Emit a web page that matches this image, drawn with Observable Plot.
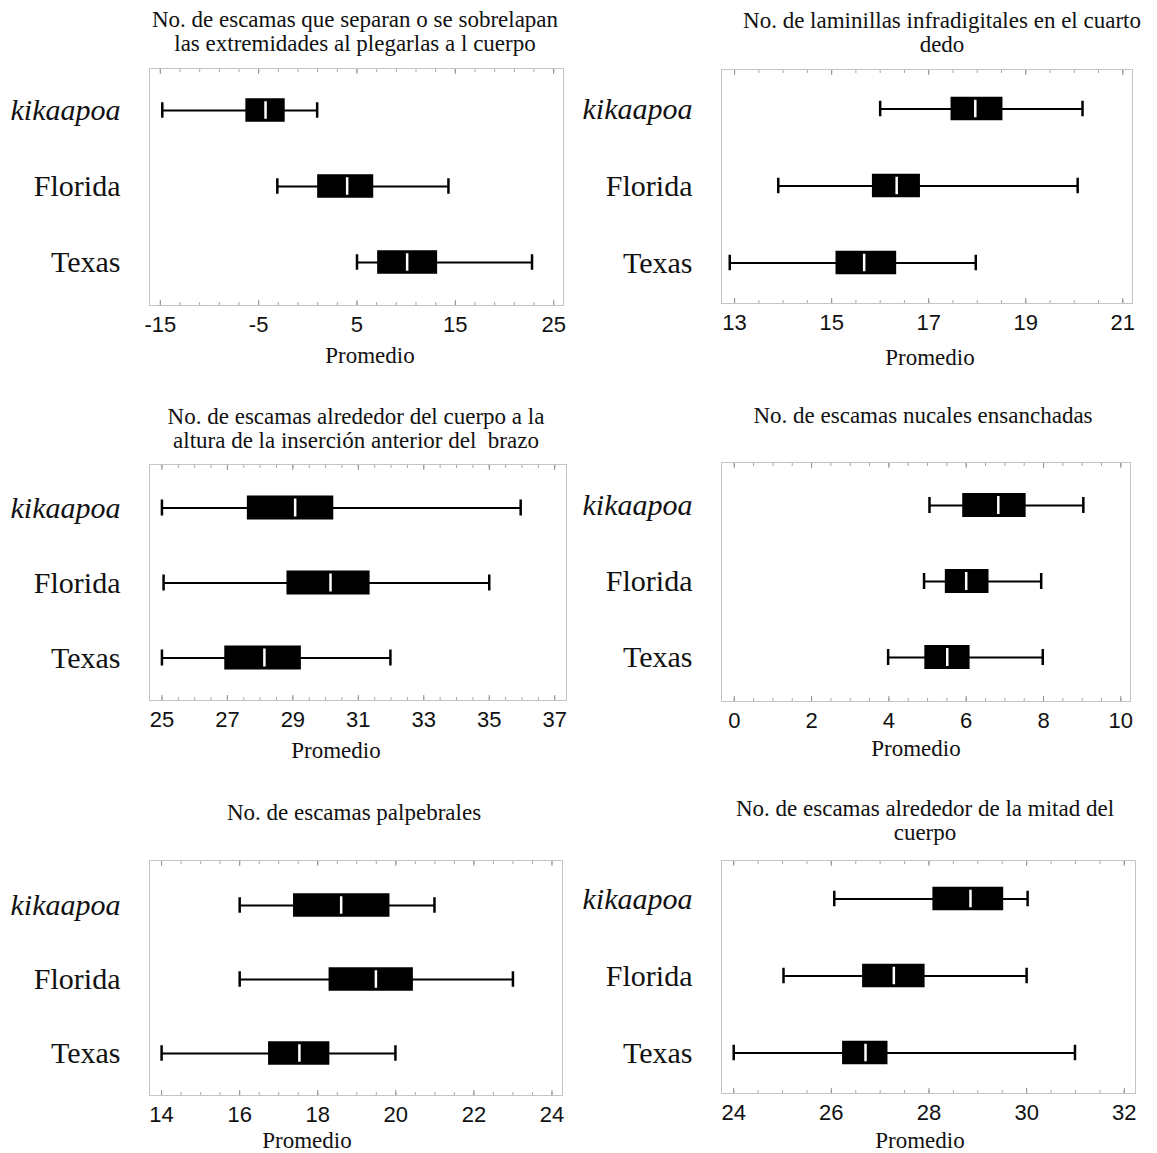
<!DOCTYPE html>
<html><head><meta charset="utf-8">
<script src="https://cdn.jsdelivr.net/npm/d3@7"></script>
<script src="https://cdn.jsdelivr.net/npm/@observablehq/plot@0.6"></script>
<style>
body{margin:0;background:#fff;}
#page{position:relative;width:1157px;height:1153px;overflow:hidden;background:#fff;}
.title{position:absolute;font-family:"Liberation Serif","Times New Roman",serif;font-size:23px;line-height:24px;text-align:center;white-space:pre;transform:translateX(-50%);color:#111;}
.xlab{position:absolute;font-family:"Liberation Serif","Times New Roman",serif;font-size:23px;line-height:1;white-space:pre;transform:translate(-50%,-50%);color:#111;}
.panel{position:absolute;}
</style></head><body><div id="page"></div>
<script>
// ---- data ----
const groups = ["kikaapoa", "Florida", "Texas"];
const titles = [
  "No. de escamas que separan o se sobrelapan\nlas extremidades al plegarlas a l cuerpo",
  "No. de laminillas infradigitales en el cuarto\ndedo",
  "No. de escamas alrededor del cuerpo a la\naltura de la inserción anterior del  brazo",
  "No. de escamas nucales ensanchadas",
  "No. de escamas palpebrales",
  "No. de escamas alrededor de la mitad del\ncuerpo"
];
const whiskerLow  = [[-14.8, -3.1, 5.0], [16.0, 13.9, 12.9], [25.0, 25.05, 25.0], [5.05, 4.91, 3.98], [16.0, 16.0, 14.0], [26.06, 25.02, 24.0]];
const boxLow      = [[-6.3, 1.0, 7.1], [17.46, 15.84, 15.09], [27.61, 28.82, 26.92], [5.91, 5.46, 4.93], [17.38, 18.29, 16.74], [28.08, 26.64, 26.23]];
const medians     = [[-4.3, 4.0, 10.1], [17.96, 16.34, 15.67], [29.07, 30.15, 28.13], [6.83, 6.0, 5.51], [18.6, 19.49, 17.53], [28.85, 27.28, 26.7]];
const boxHigh     = [[-2.3, 6.7, 13.2], [18.53, 16.83, 16.34], [30.25, 31.36, 29.26], [7.55, 6.59, 6.1], [19.85, 20.45, 18.31], [29.53, 27.92, 27.16]];
const whiskerHigh = [[0.95, 14.3, 22.8], [20.17, 20.07, 17.97], [35.96, 35.0, 31.98], [9.03, 7.94, 7.98], [20.99, 23.0, 19.99], [30.02, 30.0, 30.99]];
const tickLabels = [
  [-15, -5, 5, 15, 25],
  [13, 15, 17, 19, 21],
  [25, 27, 29, 31, 33, 35, 37],
  [0, 2, 4, 6, 8, 10],
  [14, 16, 18, 20, 22, 24],
  [24, 26, 28, 30, 32]
];
const minorStep = [2, 0.5, 0.5, 0.5, 0.5, 0.5];
const xDomains = [[-16.1, 26.0], [12.73, 21.2], [24.62, 37.36], [-0.33, 10.25], [13.69, 24.27], [23.75, 32.23]];
const xLabel = "Promedio";

// ---- layout (page pixels) ----
const layout = [
  {colX: 0,   fl: 149, fr: 563,  ft: 68,  fb: 305,  c: [109, 189, 262],  tx: 355, ty: 20,  lx: 370, ly: 355},
  {colX: 572, fl: 721, fr: 1132, ft: 69,  fb: 303,  c: [108, 189, 263],  tx: 942, ty: 21,  lx: 930, ly: 357},
  {colX: 0,   fl: 149, fr: 566,  ft: 464, fb: 700,  c: [507, 582, 657],  tx: 356, ty: 417, lx: 336, ly: 750},
  {colX: 572, fl: 721, fr: 1130, ft: 462, fb: 701,  c: [505, 583, 657],  tx: 923, ty: 416, lx: 916, ly: 748},
  {colX: 0,   fl: 149, fr: 562,  ft: 860, fb: 1095, c: [904, 977, 1053], tx: 354, ty: 813, lx: 307, ly: 1140},
  {colX: 572, fl: 721, fr: 1135, ft: 860, fb: 1093, c: [898, 979, 1053], tx: 925, ty: 809, lx: 920, ly: 1140}
];

const page = document.getElementById("page");
const serif = "Liberation Serif, Times New Roman, serif";
const sans = "Liberation Sans, Arial, sans-serif";

layout.forEach((L, i) => {
  const rows = groups.map((g, j) => ({
    group: g, lo: whiskerLow[i][j], q1: boxLow[i][j], med: medians[i][j], q3: boxHigh[i][j], hi: whiskerHigh[i][j]
  }));
  const mt = 4, mb = 40, W = 585;
  const H = (L.fb - L.ft) + mt + mb;
  const step = (L.c[2] - L.c[0]) / 2;
  const r0 = mt + (L.c[0] - L.ft) - step / 2;
  const r1 = mt + (L.c[2] - L.ft) + step / 2;
  const inset = h => (step - h) / 2;
  const t = tickLabels[i];
  const minor = d3.range(t[0], t[t.length - 1] + 1e-9, minorStep[i]);
  const chart = Plot.plot({
    width: W, height: H,
    marginLeft: L.fl - L.colX, marginRight: L.colX + W - L.fr, marginTop: mt, marginBottom: mb,
    x: {domain: xDomains[i], axis: null},
    y: {type: "band", domain: groups, range: [r0, r1], padding: 0, axis: null},
    style: {background: "transparent", overflow: "visible"},
    marks: [
      Plot.frame({stroke: "#c4c4c4", strokeWidth: 1}),
      Plot.axisX(minor, {anchor: "bottom", tickSize: -3, text: null, stroke: "#a8a8a8", label: null}),
      Plot.axisX(minor, {anchor: "top", tickSize: -3, text: null, stroke: "#a8a8a8", label: null}),
      Plot.axisX(t, {anchor: "bottom", tickSize: -5, text: null, stroke: "#909090", label: null}),
      Plot.axisX(t, {anchor: "top", tickSize: -5, text: null, stroke: "#909090", label: null}),
      Plot.axisX(t, {anchor: "bottom", tickSize: 0, tickPadding: 11, fontSize: 22, fontFamily: sans, fill: "#111", label: null, tickFormat: d => String(d)}),
      Plot.ruleY(rows, {y: "group", x1: "lo", x2: "hi", stroke: "#000", strokeWidth: 2.2}),
      Plot.tickX(rows, {y: "group", x: "lo", stroke: "#000", strokeWidth: 2.5, insetTop: inset(16), insetBottom: inset(16)}),
      Plot.tickX(rows, {y: "group", x: "hi", stroke: "#000", strokeWidth: 2.5, insetTop: inset(16), insetBottom: inset(16)}),
      Plot.barX(rows, {y: "group", x1: "q1", x2: "q3", fill: "#000", insetTop: inset(24), insetBottom: inset(24)}),
      Plot.tickX(rows, {y: "group", x: "med", stroke: "#fff", strokeWidth: 2.5, insetTop: inset(18), insetBottom: inset(18)}),
      Plot.text(rows.filter(d => d.group === "kikaapoa"), {y: "group", text: "group", frameAnchor: "left", textAnchor: "end", dx: -29, fontStyle: "italic", fontSize: 30, fontFamily: serif, fill: "#111"}),
      Plot.text(rows.filter(d => d.group !== "kikaapoa"), {y: "group", text: "group", frameAnchor: "left", textAnchor: "end", dx: -29, fontSize: 30, fontFamily: serif, fill: "#111"})
    ]
  });
  const holder = document.createElement("div");
  holder.className = "panel";
  holder.style.left = L.colX + "px";
  holder.style.top = (L.ft - mt) + "px";
  holder.appendChild(chart);
  page.appendChild(holder);

  const title = document.createElement("div");
  title.className = "title";
  title.textContent = titles[i];
  title.style.left = L.tx + "px";
  title.style.top = (L.ty - 12) + "px";
  page.appendChild(title);

  const xl = document.createElement("div");
  xl.className = "xlab";
  xl.textContent = xLabel;
  xl.style.left = L.lx + "px";
  xl.style.top = L.ly + "px";
  page.appendChild(xl);
});
</script>
</body></html>
